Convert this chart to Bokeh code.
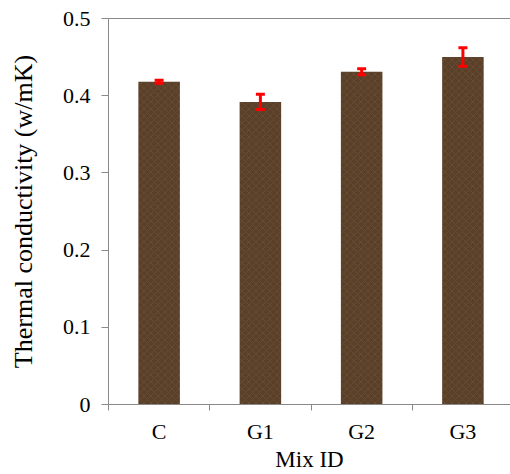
from bokeh.plotting import figure
from bokeh.models import (ColumnDataSource, FixedTicker, Range1d, Whisker, TeeHead,
                          LinearAxis, CustomJSTickFormatter)
from bokeh.embed import file_html
from bokeh.resources import INLINE

categories = ["C", "G1", "G2", "G3"]
values = [0.418, 0.392, 0.431, 0.450]
errors = [0.002, 0.010, 0.004, 0.012]
y_ticks = [0, 0.1, 0.2, 0.3, 0.4, 0.5]

xs = [i + 0.5 for i in range(len(categories))]
src = ColumnDataSource(dict(
    x=xs, top=values,
    lower=[v - e for v, e in zip(values, errors)],
    upper=[v + e for v, e in zip(values, errors)],
))

FONT = "Liberation Serif"
GREY = "#898989"

p = figure(width=510, height=474, output_backend="svg", toolbar_location=None,
           x_range=Range1d(0, 3.97), y_range=Range1d(0, 0.5),
           min_border_left=108, min_border_right=0, min_border_top=18,
           min_border_bottom=70, x_axis_location=None, y_axis_location=None)
p.outline_line_color = None
p.grid.visible = False
p.background_fill_color = "white"
p.border_fill_color = "white"

p.vbar(x="x", top="top", width=0.41, source=src,
       fill_color="#5a3f29", line_color=None,
       hatch_pattern="diagonal_cross", hatch_color="#a88a66",
       hatch_alpha=0.25, hatch_scale=7, hatch_weight=0.6)

w = Whisker(base="x", lower="lower", upper="upper", source=src,
            line_color="#ff0000", line_width=3, level="overlay",
            upper_head=TeeHead(size=9, line_color="#ff0000", line_width=3),
            lower_head=TeeHead(size=9, line_color="#ff0000", line_width=3))
p.add_layout(w)

# y axis
yax = LinearAxis(ticker=FixedTicker(ticks=y_ticks, minor_ticks=[]),
                 axis_label="Thermal conductivity (w/mK)")
yax.axis_line_color = GREY
yax.major_tick_line_color = GREY
yax.major_tick_out = 7
yax.major_tick_in = 0
yax.major_label_standoff = 11
yax.major_label_text_font = FONT
yax.major_label_text_font_size = "22px"
yax.major_label_text_color = "black"
yax.axis_label_text_font = FONT
yax.axis_label_text_font_size = "26px"
yax.axis_label_text_font_style = "normal"
yax.axis_label_text_color = "black"
yax.axis_label_standoff = 22
p.add_layout(yax, "left")

# x axis: labels at category centres, tick marks at boundaries
labels_js = "const cats = %s; return cats[Math.floor(tick)];" % str(categories)
xax = LinearAxis(ticker=FixedTicker(ticks=xs, minor_ticks=list(range(len(categories) + 1))),
                 formatter=CustomJSTickFormatter(code=labels_js),
                 axis_label="Mix ID")
xax.axis_line_color = GREY
xax.major_tick_line_color = None
xax.major_tick_out = 0
xax.major_tick_in = 0
xax.minor_tick_line_color = GREY
xax.minor_tick_out = 6
xax.minor_tick_in = 0
xax.major_label_standoff = 8
xax.major_label_text_font = FONT
xax.major_label_text_font_size = "22px"
xax.major_label_text_color = "black"
xax.axis_label_text_font = FONT
xax.axis_label_text_font_size = "23px"
xax.axis_label_text_font_style = "normal"
xax.axis_label_text_color = "black"
xax.axis_label_standoff = 0
p.add_layout(xax, "below")

# top border line
tax = LinearAxis(ticker=FixedTicker(ticks=[]), major_label_text_font_size="0px")
tax.axis_line_color = GREY
tax.major_tick_line_color = None
tax.minor_tick_line_color = None
p.add_layout(tax, "above")

open("out.html", "w").write(file_html(p, INLINE))
